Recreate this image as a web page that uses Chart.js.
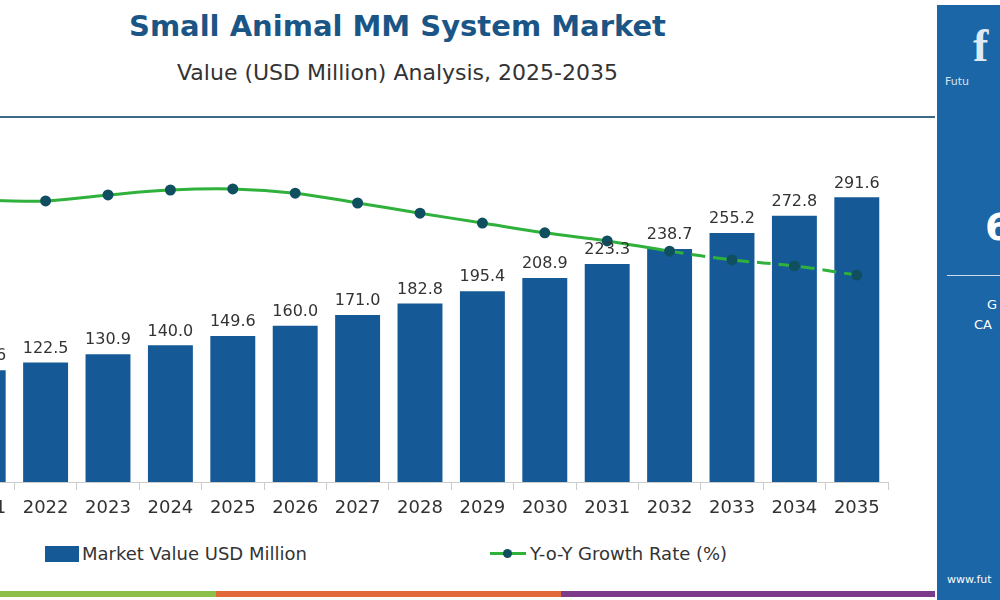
<!DOCTYPE html>
<html><head><meta charset="utf-8">
<script src="https://cdn.jsdelivr.net/npm/chart.js@4.4.0/dist/chart.umd.min.js"></script>
<style>
body{margin:0;width:1000px;height:600px;overflow:hidden;background:#fff;font-family:"DejaVu Sans",sans-serif;position:relative}
#t1{position:absolute;left:0;width:795px;top:9px;text-align:center;font:700 29px "DejaVu Sans",sans-serif;color:#1a5586}
#t2{position:absolute;left:0;width:795px;top:60px;text-align:center;font:400 22px "DejaVu Sans",sans-serif;color:#333}
#hl{position:absolute;left:0;width:935px;top:116px;height:2px;background:#3d6a85}
#cw{position:absolute;left:-55px;top:120px;width:950px;height:412px}
#panel{position:absolute;left:937px;top:5px;width:63px;height:595px;background:#1b66a6;color:#fff;font-family:"DejaVu Sans",sans-serif;overflow:hidden}
.lg{position:absolute;top:543px;font:18px "DejaVu Sans",sans-serif;color:#333}
.strip{position:absolute;top:591px;height:6px}
</style></head><body>
<div id="t1">Small Animal MM System Market</div>
<div id="t2">Value (USD Million) Analysis, 2025-2035</div>
<div id="hl"></div>
<div id="cw"><canvas id="c"></canvas></div>
<div class="lg" style="left:45px"><span style="display:inline-block;width:34px;height:16px;background:#155a96;vertical-align:-2px;margin-right:3px"></span>Market Value USD Million</div>
<div class="lg" style="left:490px"><span style="display:inline-block;position:relative;width:36px;height:3px;background:#2fb13c;vertical-align:5px;margin-right:4px"><span style="position:absolute;left:13px;top:-3px;width:9px;height:9px;border-radius:50%;background:#0f4f60"></span></span>Y-o-Y Growth Rate (%)</div>
<div class="strip" style="left:0;width:216px;background:#8dc04a"></div>
<div class="strip" style="left:216px;width:345px;background:#e2693a"></div>
<div class="strip" style="left:561px;width:374px;background:#7b3a8a"></div>
<div id="panel">
<div style="position:absolute;left:36px;top:14px;font:700 46px serif;color:#dfe9f3">f</div>
<div style="position:absolute;left:8px;top:70px;font-size:11px;color:#d8e4f0">Futu</div>
<div style="position:absolute;left:48px;top:200px;font:700 38px 'DejaVu Sans';">6</div>
<div style="position:absolute;left:10px;top:270px;width:60px;height:1px;background:#cfdbe8"></div>
<div style="position:absolute;left:50px;top:292px;font-size:13px">G</div>
<div style="position:absolute;left:37px;top:312px;font-size:13px">CA</div>
<div style="position:absolute;left:10px;top:568px;font-size:11px">www.fut</div>
</div>
<script>
const years=["2021","2022","2023","2024","2025","2026","2027","2028","2029","2030","2031","2032","2033","2034","2035"];
const marketValue=[114.6,122.5,130.9,140.0,149.6,160.0,171.0,182.8,195.4,208.9,223.3,238.7,255.2,272.8,291.6];
const growthRate=[8.02,8.0,8.17,8.31,8.34,8.22,7.94,7.65,7.37,7.09,6.86,6.57,6.32,6.15,5.89];
const dashFrom=11;
const labelPlugin={id:'lbl',afterDatasetsDraw(ch){const ctx=ch.ctx;const m=ch.getDatasetMeta(1);ctx.save();ctx.font='16px "DejaVu Sans",sans-serif';ctx.fillStyle='#333';ctx.textAlign='center';ctx.textBaseline='bottom';
m.data.forEach((b,i)=>{ctx.fillText(marketValue[i].toFixed(1),b.x,b.y-6);});ctx.restore();}};
new Chart(document.getElementById('c'),{
data:{labels:years,datasets:[
{type:'line',data:growthRate,yAxisID:'y2',borderColor:'#2fb13c',borderWidth:3,pointRadius:4,pointBackgroundColor:'#0f4f60',pointBorderColor:'#0f4f60',tension:0.35,
 segment:{borderDash:c=>c.p0DataIndex>=dashFrom?[14,8]:undefined},order:0},
{type:'bar',data:marketValue,yAxisID:'y',backgroundColor:'#155a96',barPercentage:0.72,categoryPercentage:1,order:1}]},
options:{responsive:true,maintainAspectRatio:false,animation:false,layout:{padding:{top:10.6,left:0,right:0,bottom:0}},
plugins:{legend:{display:false},tooltip:{enabled:false}},
scales:{
x:{grid:{display:true,drawOnChartArea:false,tickLength:8,color:'#ccc',offset:true},border:{color:'#ccc'},
 ticks:{font:{size:18,family:'"DejaVu Sans",sans-serif'},color:'#333',padding:8},afterFit:s=>{s.height=50;}},
y:{display:false,min:0,max:360,grid:{display:false}},
y2:{display:false,min:0,max:10}}},
plugins:[labelPlugin]});
</script>
</body></html>
